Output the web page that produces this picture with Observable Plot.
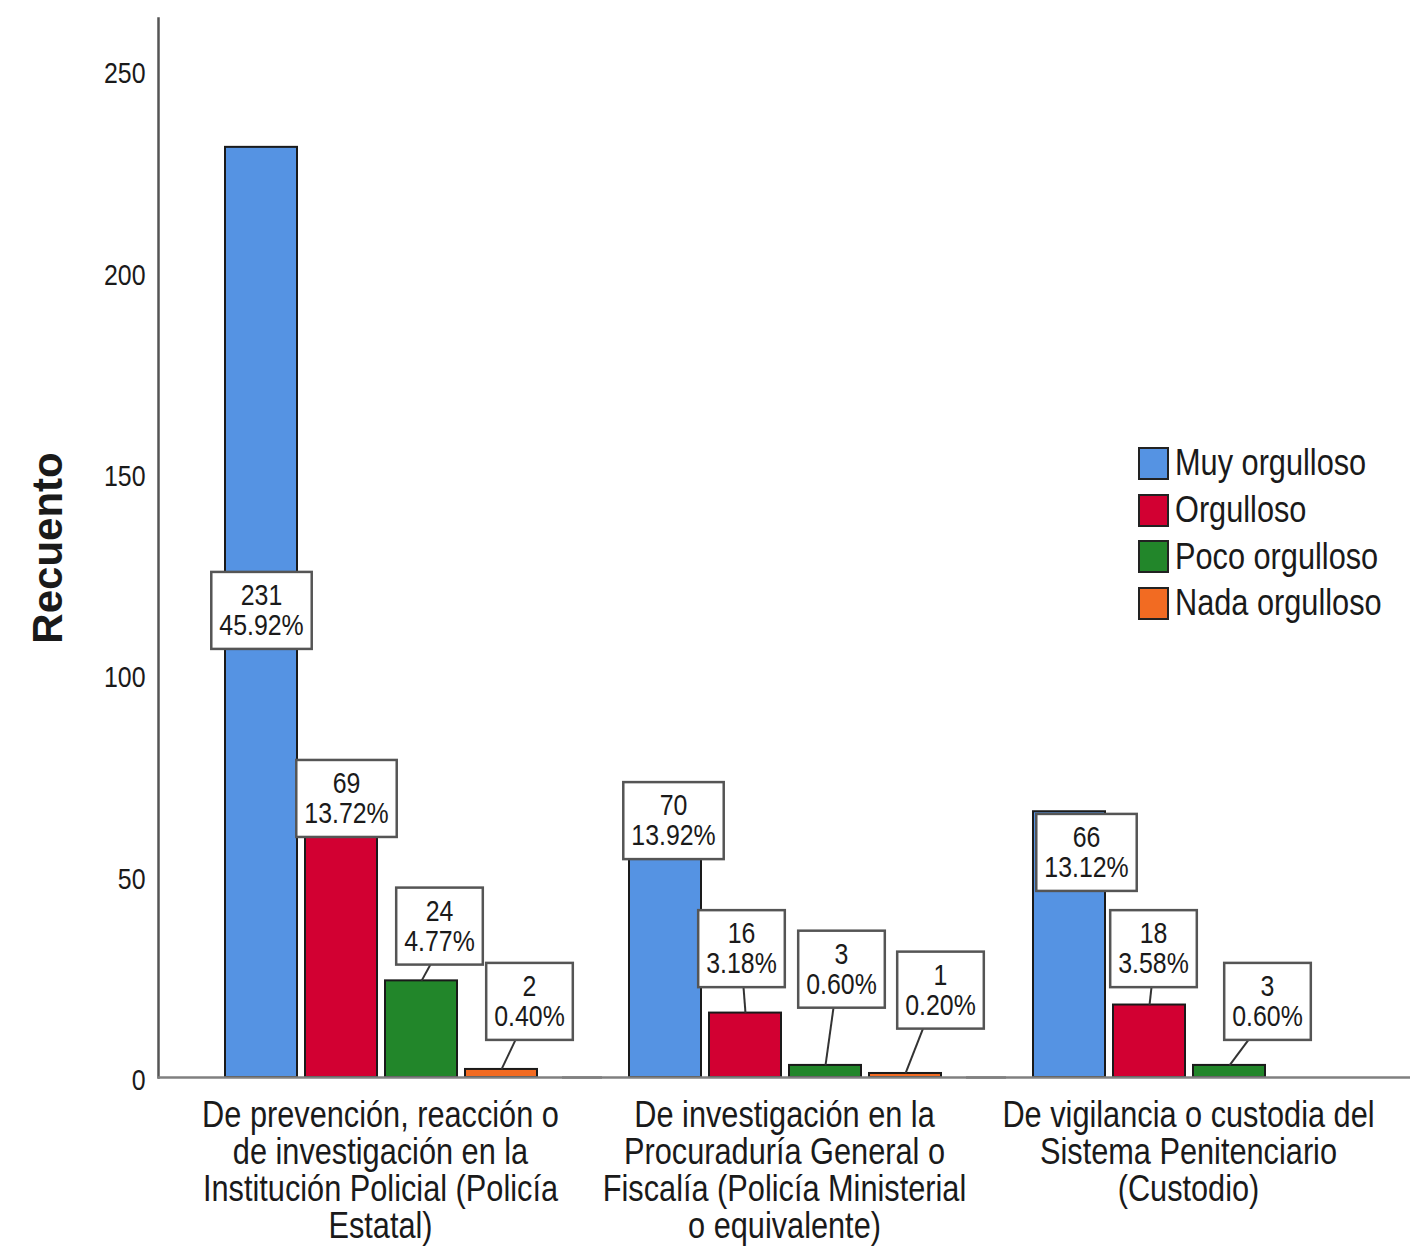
<!DOCTYPE html>
<html>
<head>
<meta charset="utf-8">
<script src="https://cdn.jsdelivr.net/npm/d3@7"></script>
<script src="https://cdn.jsdelivr.net/npm/@observablehq/plot@0.6"></script>
<style>
  body { margin: 0; background: #fff; }
  #wrap { position: relative; width: 1416px; height: 1248px; }
  g[aria-label="y-axis label"] { font-family: "Liberation Sans", Arial, sans-serif; font-weight: bold; font-size: 42px; }
  .legend { position: absolute; left: 1138px; top: 440px; color: #1a1a1a; white-space: nowrap; }
  .legend .row { display: flex; align-items: center; height: 46.7px; }
  .legend .sw { width: 27px; height: 29px; border: 2px solid #222; margin-right: 6px; box-sizing: content-box; flex: none; }
  .legend span { display: inline-block; transform: scaleX(0.83); transform-origin: left center; }
</style>
</head>
<body>
<div id="wrap"></div>
<script>
const FONT = "'Liberation Sans', Arial, sans-serif";
const NARROW = 0.83; // horizontal condensing of the text, like the original narrow face

// ---- data ----
const groups = ["prevencion", "investigacion", "vigilancia"];
const groupLabels = [
  "De prevención, reacción o\nde investigación en la\nInstitución Policial (Policía\nEstatal)",
  "De investigación en la\nProcuraduría General o\nFiscalía (Policía Ministerial\no equivalente)",
  "De vigilancia o custodia del\nSistema Penitenciario\n(Custodio)"
];
const series = ["Muy orgulloso", "Orgulloso", "Poco orgulloso", "Nada orgulloso"];
const colors = ["#5593e3", "#d20032", "#22862a", "#f26b22"];

const countsPrevencion = [231, 69, 24, 2];
const countsInvestigacion = [70, 16, 3, 1];
const countsVigilancia = [66, 18, 3];

const pctPrevencion = ["45.92%", "13.72%", "4.77%", "0.40%"];
const pctInvestigacion = ["13.92%", "3.18%", "0.60%", "0.20%"];
const pctVigilancia = ["13.12%", "3.58%", "0.60%"];

const yTicks = [0, 50, 100, 150, 200, 250];

// ---- annotation layout (label box centre in count units, horizontal shift in px) ----
const labelCenterPrevencion = [116, 69.3, 37.6, 18.9];
const labelCenterInvestigacion = [63.8, 32, 26.9, 21.7];
const labelCenterVigilancia = [55.9, 32, 18.9];
const labelShiftPrevencion = [0, 5, 18, 28];
const labelShiftInvestigacion = [8, -4, 16, 35];
const labelShiftVigilancia = [17, 4, 38];

// ---- build table ----
const counts = [countsPrevencion, countsInvestigacion, countsVigilancia];
const pcts = [pctPrevencion, pctInvestigacion, pctVigilancia];
const centers = [labelCenterPrevencion, labelCenterInvestigacion, labelCenterVigilancia];
const shifts = [labelShiftPrevencion, labelShiftInvestigacion, labelShiftVigilancia];
const rows = [];
groups.forEach((g, gi) => {
  counts[gi].forEach((c, si) => {
    rows.push({
      group: g, series: series[si], count: c,
      label: `${c}\n${pcts[gi][si]}`,
      ly: centers[gi][si], shift: shifts[gi][si]
    });
  });
});

const LABEL_SIZE = 30;
const BOX_H = 77;
const measureCtx = document.createElement("canvas").getContext("2d");
measureCtx.font = `${LABEL_SIZE}px ${FONT}`;

function boxedLabels(index, scales, values, dimensions, context, next) {
  const X0 = values.x;
  const X = Float64Array.from(X0, (x, i) => x + rows[i].shift);
  const g = next(index, scales, {...values, x: X}, dimensions, context);
  const ns = "http://www.w3.org/2000/svg";
  const first = g.firstChild;
  const lines = [], rects = [];
  for (const i of index) {
    const d = rows[i];
    const w = Math.max(...d.label.split("\n").map(t => measureCtx.measureText(t).width)) * NARROW + 16;
    const cx = X[i], cy = values.y[i];
    const barTop = scales.y(d.count);
    if (cy + BOX_H / 2 < barTop - 3) {
      const ln = document.createElementNS(ns, "line");
      ln.setAttribute("x1", (cx + X0[i]) / 2);
      ln.setAttribute("y1", cy + BOX_H / 2);
      ln.setAttribute("x2", X0[i]);
      ln.setAttribute("y2", barTop);
      ln.setAttribute("stroke", "#333");
      ln.setAttribute("stroke-width", 2);
      lines.push(ln);
    }
    const r = document.createElementNS(ns, "rect");
    r.setAttribute("x", cx - w / 2);
    r.setAttribute("y", cy - BOX_H / 2);
    r.setAttribute("width", w);
    r.setAttribute("height", BOX_H);
    r.setAttribute("fill", "white");
    r.setAttribute("stroke", "#555");
    r.setAttribute("stroke-width", 2.5);
    rects.push(r);
  }
  for (const el of [...lines, ...rects]) g.insertBefore(el, first);
  return g;
}

const chart = Plot.plot({
  width: 1416,
  height: 1248,
  marginLeft: 158,
  marginRight: 46,
  marginTop: 18,
  marginBottom: 171,
  style: { fontFamily: FONT, color: "#1a1a1a", background: "white", overflow: "visible" },
  fx: { domain: groups, padding: 0 },
  x: { domain: series, paddingInner: 0.1, paddingOuter: 0.5655, align: 0.727, axis: null },
  y: { domain: [0, 263] },
  color: { domain: series, range: colors },
  marks: [
    Plot.frame({ anchor: "left", facetAnchor: "left", stroke: "#555", strokeWidth: 2.5 }),
    Plot.barY(rows, { fx: "group", x: "series", y: "count", fill: "series", stroke: "#1a1a1a", strokeWidth: 2 }),
    Plot.ruleY([0], { stroke: "#808080", strokeWidth: 2.5, insetRight: -40 }),
    Plot.text(rows, {
      fx: "group", x: "series", y: "ly", text: "label",
      fontSize: LABEL_SIZE, lineHeight: 1, fill: "#1a1a1a",
      render: boxedLabels
    }),
    Plot.axisY({
      ticks: yTicks, tickSize: 0, tickPadding: 13, fontSize: 30, dy: 3,
      label: "Recuento", labelAnchor: "center", labelOffset: 126, labelArrow: "none"
    }),
    Plot.axisFx({
      anchor: "bottom", tickSize: 0, tickPadding: 23, fontSize: 37, lineHeight: 1, dx: 20,
      tickFormat: d => groupLabels[groups.indexOf(d)], label: null
    })
  ]
});

// condense every text horizontally around its anchor (except the bold y label)
chart.querySelectorAll("text").forEach(t => {
  if (t.closest('g[aria-label="y-axis label"]')) return;
  const xa = t.getAttribute("x");
  let pre = "";
  if (xa !== null && /^-?[\d.]+$/.test(xa) && +xa !== 0) {
    pre = ` translate(${+xa},0)`;
    t.removeAttribute("x");
  }
  const tr = t.getAttribute("transform") || "";
  t.setAttribute("transform", `${tr}${pre} scale(${NARROW},1)`);
});

const wrap = document.getElementById("wrap");
wrap.appendChild(chart);

const legend = document.createElement("div");
legend.className = "legend";
legend.style.fontFamily = FONT;
legend.style.fontSize = "37px";
series.forEach((s, i) => {
  const row = document.createElement("div");
  row.className = "row";
  const sw = document.createElement("div");
  sw.className = "sw";
  sw.style.background = colors[i];
  const t = document.createElement("span");
  t.textContent = s;
  row.appendChild(sw);
  row.appendChild(t);
  legend.appendChild(row);
});
wrap.appendChild(legend);
</script>
</body>
</html>
